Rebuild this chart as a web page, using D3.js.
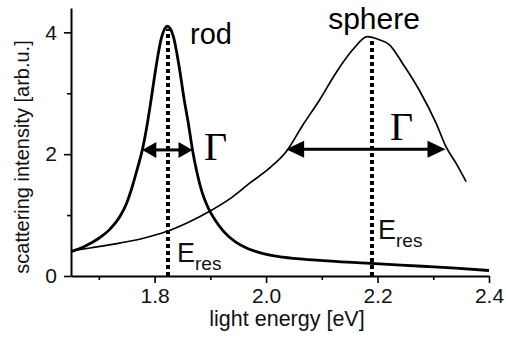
<!DOCTYPE html>
<html>
<head>
<meta charset="utf-8">
<script src="https://cdn.jsdelivr.net/npm/d3@7"></script>
<style>
  html, body { margin: 0; padding: 0; background: #fff; }
  svg { display: block; }
</style>
</head>
<body>
<svg id="chart" width="506" height="337"></svg>
<script>
// ---- data ----
const rodEnergy    = [1.65, 1.675, 1.70, 1.72, 1.738, 1.75, 1.76, 1.769, 1.778, 1.786, 1.793, 1.802, 1.812, 1.823, 1.834, 1.844, 1.853, 1.861, 1.868, 1.876, 1.885, 1.896, 1.91, 1.925, 1.945, 1.965, 1.99, 2.03, 2.09, 2.18, 2.28, 2.34, 2.4];
const rodIntensity = [0.40, 0.49, 0.62, 0.77, 0.98, 1.20, 1.47, 1.76, 2.07, 2.45, 2.85, 3.40, 3.90, 4.10, 3.92, 3.44, 2.90, 2.48, 2.07, 1.70, 1.38, 1.12, 0.90, 0.72, 0.56, 0.46, 0.38, 0.31, 0.26, 0.21, 0.16, 0.13, 0.09];
const sphereEnergy    = [1.65, 1.684, 1.737, 1.78, 1.821, 1.86, 1.902, 1.94, 1.97, 2.006, 2.036, 2.066, 2.096, 2.125, 2.155, 2.182, 2.203, 2.221, 2.245, 2.275, 2.305, 2.323, 2.341, 2.359];
const sphereIntensity = [0.41, 0.46, 0.54, 0.62, 0.73, 0.88, 1.08, 1.30, 1.52, 1.77, 2.04, 2.48, 2.89, 3.33, 3.71, 3.93, 3.88, 3.80, 3.49, 3.05, 2.51, 2.12, 1.85, 1.55];

const xMajorTicks = [1.8, 2.0, 2.2, 2.4];
const xMinorTicks = [1.7, 1.9, 2.1, 2.3];
const yMajorTicks = [0, 2, 4];
const yMinorTicks = [1, 3];

const xDomain = [1.65, 2.4];
const yDomain = [0, 4.4];

// resonance markers and widths (rod, sphere)
const resEnergy   = [1.824, 2.19];
const resTop      = [4.06, 3.86];
const widthFrom   = [1.778, 2.036];
const widthTo     = [1.868, 2.322];
const widthLevel  = [2.07, 2.08];

const xTitle = "light energy [eV]";
const yTitle = "scattering intensity [arb.u.]";

// ---- drawing ----
const SANS = "'Liberation Sans', Arial, Helvetica, sans-serif";
const SERIF = "'Liberation Serif', 'Times New Roman', serif";
const svg = d3.select("#chart");
const x = d3.scaleLinear().domain(xDomain).range([71, 489]);
const y = d3.scaleLinear().domain(yDomain).range([276, 8]);

// axes
const xAxis = svg.append("g").attr("transform", `translate(0,${y(0)})`)
  .call(d3.axisBottom(x).tickValues(xMajorTicks).tickFormat(d3.format(".1f")).tickSize(7).tickSizeOuter(0).tickPadding(5));
svg.append("g").attr("transform", `translate(0,${y(0)})`)
  .call(d3.axisBottom(x).tickValues(xMinorTicks).tickFormat("").tickSize(4).tickSizeOuter(0))
  .select(".domain").remove();
const yAxis = svg.append("g").attr("transform", `translate(${x(xDomain[0])},0)`)
  .call(d3.axisLeft(y).tickValues(yMajorTicks).tickFormat(d3.format("d")).tickSize(7).tickSizeOuter(0).tickPadding(7));
svg.append("g").attr("transform", `translate(${x(xDomain[0])},0)`)
  .call(d3.axisLeft(y).tickValues(yMinorTicks).tickFormat("").tickSize(4).tickSizeOuter(0))
  .select(".domain").remove();

svg.selectAll(".domain").attr("stroke", "#000").attr("stroke-width", 2);
svg.selectAll(".tick line").attr("stroke", "#000").attr("stroke-width", 1.6);
xAxis.selectAll(".tick text").style("font-family", SANS).style("font-size", "21px").attr("fill", "#111");
yAxis.selectAll(".tick text").style("font-family", SANS).style("font-size", "21px").attr("fill", "#111");

// axis titles
svg.append("text").attr("x", 287).attr("y", 326).attr("text-anchor", "middle")
  .style("font-family", SANS).style("font-size", "21.5px").attr("fill", "#111").text(xTitle);
svg.append("text").attr("transform", `translate(29,157) rotate(-90)`).attr("text-anchor", "middle")
  .style("font-family", SANS).style("font-size", "20px").attr("fill", "#111").text(yTitle);

// curves
const line = d3.line().x(d => x(d[0])).y(d => y(d[1])).curve(d3.curveMonotoneX);
const sphereData = d3.zip(sphereEnergy, sphereIntensity);
const rodData = d3.zip(rodEnergy, rodIntensity);

svg.append("path").datum(sphereData).attr("d", line)
  .attr("fill", "none").attr("stroke", "#000").attr("stroke-width", 1.7).attr("stroke-linejoin", "round");
svg.append("path").datum(rodData).attr("d", line)
  .attr("fill", "none").attr("stroke", "#000").attr("stroke-width", 2.8).attr("stroke-linejoin", "round");

// dotted resonance lines
resEnergy.forEach((e, i) => {
  svg.append("line")
    .attr("x1", x(e)).attr("x2", x(e))
    .attr("y1", y(0)).attr("y2", y(resTop[i]))
    .attr("stroke", "#000").attr("stroke-width", 4).attr("stroke-dasharray", "4,3");
});

// double arrows for width
const headLen = [14, 18], headHalf = [8, 8.5];
widthFrom.forEach((e0, i) => {
  const x0 = x(e0), x1 = x(widthTo[i]), yy = y(widthLevel[i]);
  const L = headLen[i], H = headHalf[i];
  svg.append("line").attr("x1", x0 + L - 2).attr("x2", x1 - L + 2).attr("y1", yy).attr("y2", yy)
    .attr("stroke", "#000").attr("stroke-width", 3);
  svg.append("path").attr("d", `M${x0},${yy} L${x0 + L},${yy - H} L${x0 + L},${yy + H} Z`).attr("fill", "#000");
  svg.append("path").attr("d", `M${x1},${yy} L${x1 - L},${yy - H} L${x1 - L},${yy + H} Z`).attr("fill", "#000");
});

// labels
svg.append("text").attr("x", 190).attr("y", 44).style("font-family", SANS).style("font-size", "29px").text("rod");
svg.append("text").attr("x", 374).attr("y", 29).attr("text-anchor", "middle")
  .style("font-family", SANS).style("font-size", "30px").text("sphere");

const gamma = [[204, 160], [390, 140]];
gamma.forEach(p => svg.append("text").attr("x", p[0]).attr("y", p[1])
  .style("font-family", SERIF).style("font-size", "40px").text("\u0393"));

const eres = [[177, 262, 269.5], [378, 238.5, 246.5]];
eres.forEach(p => {
  const t = svg.append("text").attr("x", p[0]).attr("y", p[1])
    .style("font-family", SANS).style("font-size", "27px").attr("fill", "#111");
  t.append("tspan").text("E");
  t.append("tspan").style("font-size", "19px").attr("dy", p[2] - p[1]).text("res");
});
</script>
</body>
</html>
